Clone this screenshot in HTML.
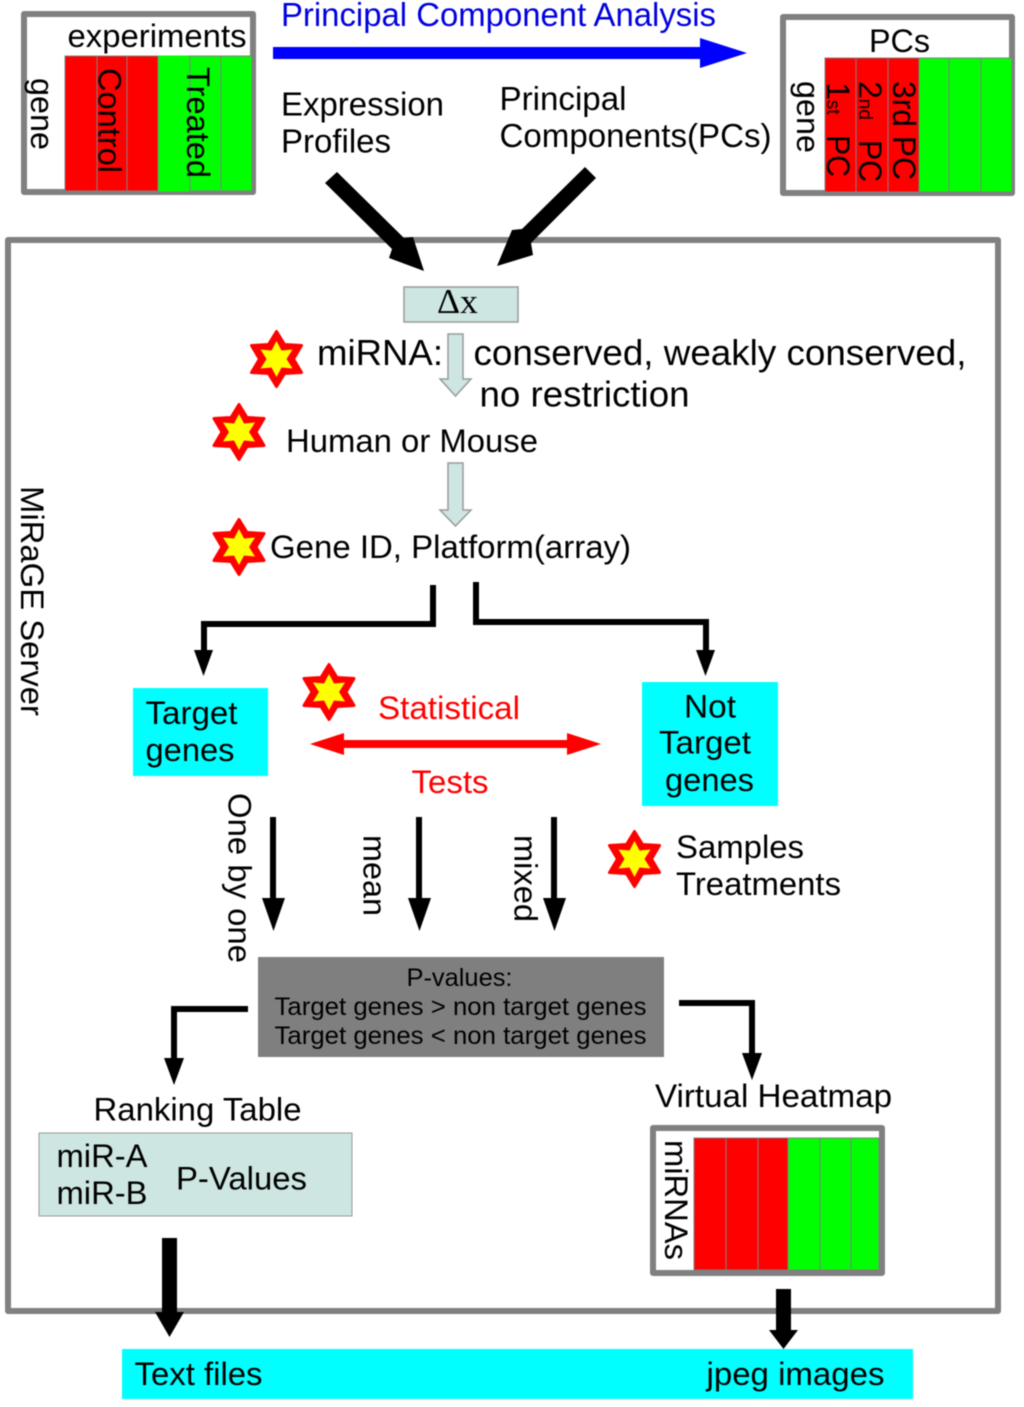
<!DOCTYPE html>
<html><head><meta charset="utf-8"><style>html,body{margin:0;padding:0;background:#fff}svg{display:block;filter:blur(.4px)}text{font-family:"Liberation Sans",sans-serif;fill:#000}</style></head><body>
<svg width="1024" height="1407" viewBox="0 0 1024 1407" xmlns="http://www.w3.org/2000/svg">
<rect x="8" y="240" width="990" height="1071" fill="#fff" stroke="#808080" stroke-width="6" stroke-linejoin="round"/>
<!-- left panel -->
<rect x="24" y="14" width="229" height="178" fill="#fff" stroke="#808080" stroke-width="6" stroke-linejoin="round"/>
<g stroke="#808080" stroke-width="1">
<rect x="65" y="56" width="32" height="135" fill="#f00"/><rect x="97" y="56" width="30" height="135" fill="#f00"/><rect x="127" y="56" width="31" height="135" fill="#f00"/>
<rect x="159" y="56" width="31" height="135" fill="#0f0" stroke="#0f0"/><rect x="190" y="56" width="31" height="135" fill="#0f0"/><rect x="221" y="56" width="31" height="135" fill="#0f0"/>
</g>
<text x="67.500" y="47" font-size="32" textLength="179" lengthAdjust="spacingAndGlyphs">experiments</text>
<text transform="translate(31,78) rotate(90)" font-size="32" textLength="72" lengthAdjust="spacingAndGlyphs">gene</text>
<text transform="translate(98.500,68) rotate(90)" font-size="32" textLength="105" lengthAdjust="spacingAndGlyphs">Control</text>
<text transform="translate(187,67) rotate(90)" font-size="32" textLength="111" lengthAdjust="spacingAndGlyphs">Treated</text>
<!-- PCA -->
<text x="281" y="26" font-size="33" style="fill:#0000e0" textLength="435" lengthAdjust="spacingAndGlyphs">Principal Component Analysis</text>
<polygon points="273,47 700,47 700,38 747,53 700,68 700,59 273,59" fill="#00f"/>
<text x="281" y="115.500" font-size="33" textLength="163" lengthAdjust="spacingAndGlyphs">Expression</text>
<text x="281" y="152.500" font-size="33" textLength="110" lengthAdjust="spacingAndGlyphs">Profiles</text>
<text x="499.500" y="110" font-size="33" textLength="127" lengthAdjust="spacingAndGlyphs">Principal</text>
<text x="499.500" y="147" font-size="33" textLength="272" lengthAdjust="spacingAndGlyphs">Components(PCs)</text>
<!-- PC panel -->
<rect x="783" y="17" width="229" height="176" fill="#fff" stroke="#808080" stroke-width="6" stroke-linejoin="round"/>
<g stroke="#808080" stroke-width="1">
<rect x="825" y="58" width="31" height="134" fill="#f00"/><rect x="856" y="58" width="32" height="134" fill="#f00"/><rect x="888" y="58" width="31" height="134" fill="#f00"/>
<rect x="919" y="58" width="30" height="134" fill="#0f0"/><rect x="949" y="58" width="32" height="134" fill="#0f0"/><rect x="981" y="58" width="31" height="134" fill="#0f0"/>
</g>
<text x="869" y="52" font-size="32" textLength="61" lengthAdjust="spacingAndGlyphs">PCs</text>
<text transform="translate(797,81) rotate(90)" font-size="32" textLength="72" lengthAdjust="spacingAndGlyphs">gene</text>
<text transform="translate(827,82) rotate(90)" font-size="32"><tspan>1</tspan><tspan font-size="19">st</tspan><tspan x="53" textLength="42" lengthAdjust="spacingAndGlyphs">PC</tspan></text>
<text transform="translate(859,81) rotate(90)" font-size="32"><tspan>2</tspan><tspan font-size="19">nd</tspan><tspan x="59" textLength="42" lengthAdjust="spacingAndGlyphs">PC</tspan></text>
<text transform="translate(893,81) rotate(90)" font-size="32" textLength="99" lengthAdjust="spacingAndGlyphs">3rd PC</text>
<!-- big black arrows -->
<polygon points="337,172 404,238 413,237 424,271 389,258 392,249 325,183"/>
<polygon points="585,167 596,178 531,243 533,255 497,266 512,230 522,229"/>
<!-- Delta x -->
<rect x="404" y="287" width="114" height="35" fill="#cde6e2" stroke="#9a9a9a" stroke-width="1.500"/>
<text x="437" y="313" style="font-family:'Liberation Serif',serif" font-size="35" textLength="41" lengthAdjust="spacingAndGlyphs">Δx</text>
<!-- light arrows -->
<polygon points="448,334 463,334 463,379 471,379 455.500,396 440,379 448,379" fill="#cde6e2" stroke="#9a9a9a" stroke-width="1.500"/>
<polygon points="448,463 463,463 463,510 471,510 455.500,526 440,510 448,510" fill="#cde6e2" stroke="#9a9a9a" stroke-width="1.500"/>
<text x="317" y="365" font-size="36" textLength="126" lengthAdjust="spacingAndGlyphs">miRNA:</text>
<text x="473.500" y="365" font-size="36" textLength="493" lengthAdjust="spacingAndGlyphs">conserved, weakly conserved,</text>
<text x="479.500" y="406.500" font-size="36" textLength="210" lengthAdjust="spacingAndGlyphs">no restriction</text>
<text x="286" y="452" font-size="32" textLength="252" lengthAdjust="spacingAndGlyphs">Human or Mouse</text>
<text x="270" y="558" font-size="32" textLength="361" lengthAdjust="spacingAndGlyphs">Gene ID, Platform(array)</text>
<!-- stars -->
<g stroke-linejoin="round">
<g transform="translate(276.500,359)"><polygon fill="#f00" stroke="#f00" stroke-width="3" points="0,-27.500 8,-14.500 25,-13.500 17,0 25,13.500 8,14.500 0,27.500 -8,14.500 -25,13.500 -17,0 -25,-13.500 -8,-14.500"/><polygon fill="#ff0" points="0,-18 5,-8.500 16,-9.500 10,0 16,9.500 5,8.500 0,18 -5,8.500 -16,9.500 -10,0 -16,-9.500 -5,-8.500"/></g>
<g transform="translate(239,432)"><polygon fill="#f00" stroke="#f00" stroke-width="3" points="0,-27.500 8,-14.500 25,-13.500 17,0 25,13.500 8,14.500 0,27.500 -8,14.500 -25,13.500 -17,0 -25,-13.500 -8,-14.500"/><polygon fill="#ff0" points="0,-18 5,-8.500 16,-9.500 10,0 16,9.500 5,8.500 0,18 -5,8.500 -16,9.500 -10,0 -16,-9.500 -5,-8.500"/></g>
<g transform="translate(239,547)"><polygon fill="#f00" stroke="#f00" stroke-width="3" points="0,-27.500 8,-14.500 25,-13.500 17,0 25,13.500 8,14.500 0,27.500 -8,14.500 -25,13.500 -17,0 -25,-13.500 -8,-14.500"/><polygon fill="#ff0" points="0,-18 5,-8.500 16,-9.500 10,0 16,9.500 5,8.500 0,18 -5,8.500 -16,9.500 -10,0 -16,-9.500 -5,-8.500"/></g>
<g transform="translate(329,692)"><polygon fill="#f00" stroke="#f00" stroke-width="3" points="0,-27.500 8,-14.500 25,-13.500 17,0 25,13.500 8,14.500 0,27.500 -8,14.500 -25,13.500 -17,0 -25,-13.500 -8,-14.500"/><polygon fill="#ff0" points="0,-18 5,-8.500 16,-9.500 10,0 16,9.500 5,8.500 0,18 -5,8.500 -16,9.500 -10,0 -16,-9.500 -5,-8.500"/></g>
<g transform="translate(634.500,859)"><polygon fill="#f00" stroke="#f00" stroke-width="3" points="0,-27.500 8,-14.500 25,-13.500 17,0 25,13.500 8,14.500 0,27.500 -8,14.500 -25,13.500 -17,0 -25,-13.500 -8,-14.500"/><polygon fill="#ff0" points="0,-18 5,-8.500 16,-9.500 10,0 16,9.500 5,8.500 0,18 -5,8.500 -16,9.500 -10,0 -16,-9.500 -5,-8.500"/></g>
</g>
<text transform="translate(21,486) rotate(90)" font-size="32" textLength="230" lengthAdjust="spacingAndGlyphs">MiRaGE Server</text>
<!-- split connectors -->
<path d="M433,585V624H204V652" fill="none" stroke="#000" stroke-width="6"/>
<polygon points="194,650 213,650 203.500,676"/>
<path d="M476,582V622H706V652" fill="none" stroke="#000" stroke-width="6"/>
<polygon points="696,650 715,650 705.500,676"/>
<!-- target boxes -->
<rect x="133" y="688" width="135" height="88" fill="#0ff"/>
<text x="145.500" y="724" font-size="32" textLength="92" lengthAdjust="spacingAndGlyphs">Target</text>
<text x="145.500" y="761" font-size="32" textLength="89" lengthAdjust="spacingAndGlyphs">genes</text>
<rect x="642" y="682" width="136" height="124" fill="#0ff"/>
<text x="684" y="717.500" font-size="32" textLength="52" lengthAdjust="spacingAndGlyphs">Not</text>
<text x="659" y="753.500" font-size="32" textLength="92" lengthAdjust="spacingAndGlyphs">Target</text>
<text x="665" y="791" font-size="32" textLength="89" lengthAdjust="spacingAndGlyphs">genes</text>
<text x="378" y="719" font-size="32" style="fill:#f00" textLength="142" lengthAdjust="spacingAndGlyphs">Statistical</text>
<text x="411.500" y="793" font-size="32" style="fill:#f00" textLength="77" lengthAdjust="spacingAndGlyphs">Tests</text>
<polygon points="310,744 344,733 344,740 567,740 567,733 601,744 567,755 567,748 344,748 344,755" fill="#f00"/>
<!-- vertical arrows -->
<path d="M273,817V900M419,817V900M554,817V900" stroke="#000" stroke-width="6" fill="none"/>
<polygon points="262,898 285,898 273.500,931"/>
<polygon points="408,898 431,898 419.500,931"/>
<polygon points="543,898 566,898 554.500,931"/>
<text transform="translate(228.500,793) rotate(90)" font-size="32" textLength="170" lengthAdjust="spacingAndGlyphs">One by one</text>
<text transform="translate(363.500,835) rotate(90)" font-size="32" textLength="81" lengthAdjust="spacingAndGlyphs">mean</text>
<text transform="translate(514.500,835) rotate(90)" font-size="32" textLength="87" lengthAdjust="spacingAndGlyphs">mixed</text>
<text x="676" y="858" font-size="32" textLength="128" lengthAdjust="spacingAndGlyphs">Samples</text>
<text x="676" y="895" font-size="32" textLength="165" lengthAdjust="spacingAndGlyphs">Treatments</text>
<!-- p-values -->
<rect x="258" y="957" width="406" height="100" fill="#7f7f7f"/>
<text x="406.500" y="986" font-size="25" textLength="106" lengthAdjust="spacingAndGlyphs">P-values:</text>
<text x="274.500" y="1015" font-size="25" textLength="372" lengthAdjust="spacingAndGlyphs">Target genes &gt; non target genes</text>
<text x="274.500" y="1044" font-size="25" textLength="372" lengthAdjust="spacingAndGlyphs">Target genes &lt; non target genes</text>
<path d="M248,1009H174V1060" fill="none" stroke="#000" stroke-width="6"/>
<polygon points="164,1058 184,1058 174,1085"/>
<path d="M679,1003H752V1055" fill="none" stroke="#000" stroke-width="6"/>
<polygon points="742,1053 762,1053 752,1080"/>
<!-- ranking -->
<text x="93.500" y="1120.500" font-size="32" textLength="208" lengthAdjust="spacingAndGlyphs">Ranking Table</text>
<rect x="39" y="1133" width="313" height="83" fill="#cde6e2" stroke="#9a9a9a" stroke-width="1"/>
<text x="56.500" y="1167" font-size="32" textLength="91" lengthAdjust="spacingAndGlyphs">miR-A</text>
<text x="56.500" y="1204" font-size="32" textLength="91" lengthAdjust="spacingAndGlyphs">miR-B</text>
<text x="176" y="1189.500" font-size="32" textLength="131" lengthAdjust="spacingAndGlyphs">P-Values</text>
<!-- heatmap -->
<text x="655" y="1107" font-size="32" textLength="237" lengthAdjust="spacingAndGlyphs">Virtual Heatmap</text>
<rect x="653" y="1128" width="229" height="145" fill="#fff" stroke="#808080" stroke-width="6" stroke-linejoin="round"/>
<g stroke="#808080" stroke-width="1">
<rect x="694" y="1138" width="32" height="132" fill="#f00"/><rect x="726" y="1138" width="32" height="132" fill="#f00"/><rect x="758" y="1138" width="30" height="132" fill="#f00"/>
<rect x="788" y="1138" width="32" height="132" fill="#0f0"/><rect x="820" y="1138" width="31" height="132" fill="#0f0"/><rect x="851" y="1138" width="28" height="132" fill="#0f0"/>
</g>
<text transform="translate(665,1140) rotate(90)" font-size="32" textLength="120" lengthAdjust="spacingAndGlyphs">miRNAs</text>
<!-- bottom -->
<rect x="122" y="1349" width="791" height="50" fill="#0ff"/>
<polygon points="162,1238 177,1238 177,1312 184,1312 169.500,1337 155,1312 162,1312"/>
<polygon points="776,1289 791,1289 791,1330 798,1330 783.500,1349 769,1330 776,1330"/>
<text x="134.500" y="1385" font-size="32" textLength="128" lengthAdjust="spacingAndGlyphs">Text files</text>
<text x="706.500" y="1385" font-size="32" textLength="178" lengthAdjust="spacingAndGlyphs">jpeg images</text>
</svg>
</body></html>
